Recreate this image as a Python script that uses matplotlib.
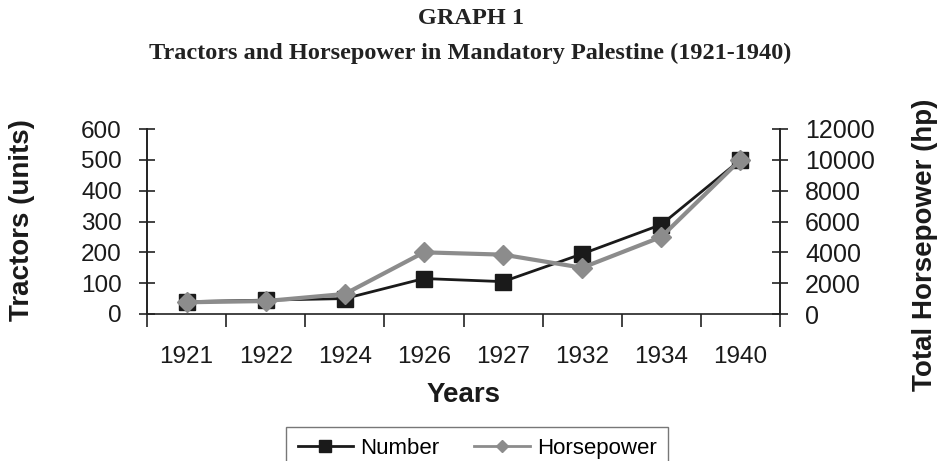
import matplotlib.pyplot as plt
from matplotlib.lines import Line2D

years = ["1921", "1922", "1924", "1926", "1927", "1932", "1934", "1940"]
tractors = [40, 45, 50, 115, 105, 195, 290, 500]
horsepower = [760, 840, 1300, 4000, 3850, 3000, 5000, 10000]

plt.rcParams["font.family"] = ["Liberation Sans", "DejaVu Sans"]

fig = plt.figure(figsize=(9.41, 4.61), dpi=100)
ax = fig.add_axes([147 / 941, 1 - 314 / 461, (780 - 147) / 941, (314 - 129) / 461])
ax2 = ax.twinx()

xs = list(range(len(years)))
ax.plot(xs, tractors, color="#1a1a1a", lw=2, marker="s", ms=11, clip_on=False, zorder=3)
ax2.plot(xs, horsepower, color="#8c8c8c", lw=3, marker="D", ms=10, clip_on=False, zorder=3)

ax.set_xlim(-0.5, len(years) - 0.5)
ax.set_ylim(0, 600)
ax2.set_ylim(0, 12000)
ax.set_yticks(range(0, 601, 100))
ax2.set_yticks(range(0, 12001, 2000))

# category axis: ticks between categories, labels at centers
ax.set_xticks([i - 0.5 for i in range(len(years) + 1)])
ax.set_xticklabels([])
ax.set_xticks(xs, minor=True)
ax.set_xticklabels(years, minor=True)
ax.tick_params(axis="x", which="major", direction="out", length=9, width=1.2, color="#222")
ax.tick_params(axis="x", which="minor", length=0, pad=23, labelsize=17.5, labelcolor="#1a1a1a")
ax.tick_params(axis="y", direction="inout", length=12, width=1.2, color="#222",
               labelsize=17.5, labelcolor="#1a1a1a", pad=12)
ax2.tick_params(axis="y", direction="inout", length=12, width=1.2, color="#222",
                labelsize=18, labelcolor="#1a1a1a", pad=12)

for a in (ax, ax2):
    a.spines["top"].set_visible(False)
    for s in ("left", "right", "bottom"):
        a.spines[s].set_linewidth(1.2)
        a.spines[s].set_color("#222")
ax2.spines["bottom"].set_visible(False)

ax.set_xlabel("Years", fontsize=20, fontweight="bold", color="#1a1a1a", labelpad=10)
fig.text(22 / 941, 1 - 220 / 461, "Tractors (units)", rotation=90, ha="center", va="center",
         fontsize=20, fontweight="bold", color="#1a1a1a")
fig.text(925 / 941, 1 - 245 / 461, "Total Horsepower (hp)", rotation=90, ha="center",
         va="center", fontsize=20, fontweight="bold", color="#1a1a1a")

fig.text(0.5, 1 - 24 / 461, "GRAPH 1", ha="center", va="baseline",
         family=["Liberation Serif"], fontweight="bold", fontsize=17.5, color="#222")
fig.text(0.5, 1 - 59 / 461, "Tractors and Horsepower in Mandatory Palestine (1921-1940)",
         ha="center", va="baseline", family=["Liberation Serif"], fontweight="bold",
         fontsize=17.5, color="#222")

handles = [
    Line2D([], [], color="#1a1a1a", lw=2, marker="s", ms=8),
    Line2D([], [], color="#8c8c8c", lw=2, marker="D", ms=6),
]
leg = fig.legend(handles, ["Number", "Horsepower"], loc="upper center",
                 bbox_to_anchor=(477 / 941, 1 - 427 / 461), ncol=2, fontsize=16,
                 frameon=True, fancybox=False, edgecolor="#555", handlelength=2.5,
                 handletextpad=0.3, columnspacing=1.6, borderpad=0.5, borderaxespad=0)
leg.get_frame().set_linewidth(1.0)

fig.savefig("out.png", dpi=100)
